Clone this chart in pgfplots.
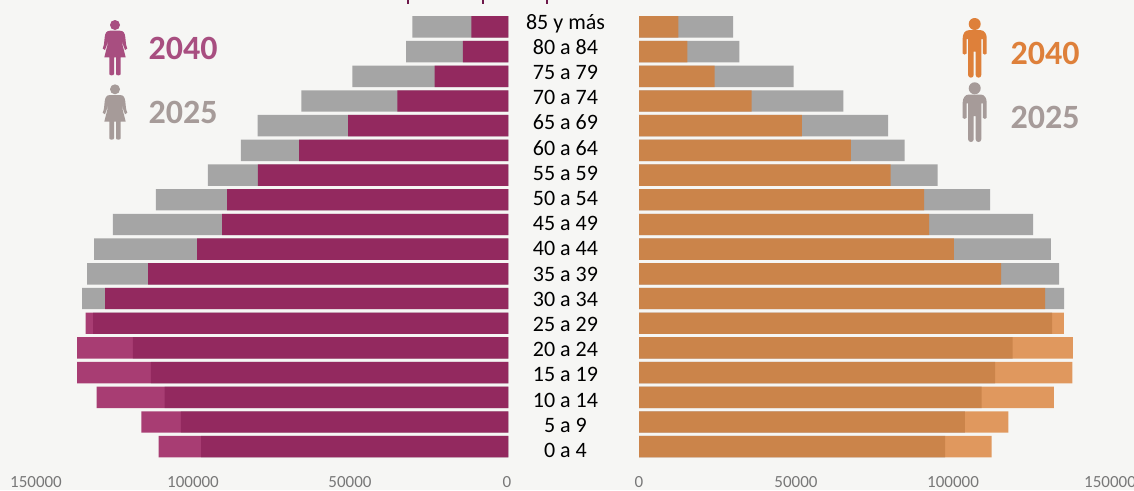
\documentclass[border=0pt]{standalone}
\usepackage{fontspec}
\setmainfont{Carlito}
\usepackage{pgfplots}
\pgfplotsset{compat=1.18}
\usepackage{pgfplotstable}
\definecolor{bgc}{RGB}{246,246,244}
\definecolor{gbar}{RGB}{165,165,165}
\definecolor{pbar}{RGB}{142,0,72}
\definecolor{obar}{RGB}{217,121,44}
\definecolor{ptxt}{RGB}{168,78,128}
\definecolor{otxt}{RGB}{222,128,58}
\definecolor{gtxt}{RGB}{166,155,153}
\definecolor{tickc}{RGB}{120,120,120}
\definecolor{ttl}{RGB}{110,25,75}
% row 0 = "0 a 4"
\pgfplotstableread{
row f2025 f2040 m2025 m2040
0 97900 111400 97500 112300
1 104300 116900 103800 117600
2 109500 131200 109100 132100
3 113900 137400 113400 138000
4 119600 137400 119000 138200
5 132300 134700 131600 135300
6 135800 128500 135400 129300
7 134200 114800 133800 115300
8 132000 99200 131200 100300
9 126000 91200 125500 92400
10 112300 89600 111800 90800
11 95700 79800 95100 80100
12 85200 66700 84600 67500
13 79900 51100 79300 51900
14 66000 35400 65100 35900
15 49700 23500 49200 24100
16 32600 14500 32000 15400
17 30600 11800 30000 12500
}\pop
\pgfplotsset{pyr/.style={
  scale only axis, height=470pt,
  ymin=-0.944, ymax=18.09,
  axis line style={draw=none}, major tick length=0pt,
  xtick={0,50000,100000,150000},
  xticklabels={0,50000,100000,150000},
  scaled x ticks=false,
  xticklabel style={font=\fontsize{17}{20}\selectfont, text=tickc, yshift=-3pt},
  clip=false,
  every axis plot/.style={xbar, bar width=21.4pt, bar shift=0pt, draw=none},
}}
% pictograms
\newcommand{\woman}[3]{% x, y of head centre, colour
 \begin{scope}[shift={(#1,#2)}]
  \fill[#3] (0,0) circle (5);
  \fill[#3] (-5,5.7) -- (5,5.7) to[out=0,in=115] (12.3,23.5) -- (10,25) -- (6,14) -- (10.7,32.3) -- (5.7,32.3) -- (5.7,49) to[out=-90,in=-90] (1,49) -- (1,32.3) -- (-1,32.3) -- (-1,49) to[out=-90,in=-90] (-5.7,49) -- (-5.7,32.3) -- (-10.7,32.3) -- (-6,14) -- (-10,25) -- (-12.3,23.5) to[out=65,in=180] cycle;
 \end{scope}}
\newcommand{\man}[3]{%
 \begin{scope}[shift={(#1,#2)}]
  \fill[#3] (0,0) circle (6);
  \fill[#3] (-6,6.2) -- (6,6.2) to[out=0,in=90] (12,14) -- (12,29.5) to[out=-90,in=-90] (8.2,29.5) -- (8.2,15) -- (6.6,15) -- (6.6,51) to[out=-90,in=0] (3.8,53.7) to[out=180,in=-90] (1,51) -- (1,27.7) -- (-1,27.7) -- (-1,51) to[out=-90,in=0] (-3.8,53.7) to[out=180,in=-90] (-6.6,51) -- (-6.6,15) -- (-8.2,15) -- (-8.2,29.5) to[out=-90,in=-90] (-12,29.5) -- (-12,14) to[out=90,in=180] cycle;
 \end{scope}}
\begin{document}
\begin{tikzpicture}[x=1pt,y=-1pt]
\fill[bgc] (0,0) rectangle (1134,490);
\useasboundingbox (0,0) rectangle (1134,490);
\fill[ttl] (407,0) rectangle (409,4);
\fill[ttl] (482,0) rectangle (484,4);
\fill[ttl] (546,0) rectangle (548,4);
\begin{axis}[pyr, at={(0pt,-470pt)}, anchor=south west, width=508.5pt,
  xmin=0, xmax=161943, x dir=reverse,
  xticklabel style={xshift=-1.5pt},
  ytick={-0.134,0.887,1.907,2.928,3.949,4.970,5.990,7.011,8.032,9.052,10.073,11.094,12.114,13.135,14.156,15.177,16.197,17.218},
  yticklabels={0 a 4,5 a 9,10 a 14,15 a 19,20 a 24,25 a 29,30 a 34,35 a 39,40 a 44,45 a 49,50 a 54,55 a 59,60 a 64,65 a 69,70 a 74,75 a 79,80 a 84,85 y más},
  yticklabel pos=right,
  yticklabel style={anchor=center, xshift=57pt, yshift=-2.5pt, text height=14pt, text depth=4pt, font=\fontsize{22}{24}\selectfont, text=black},
]
\addplot[fill=gbar] table[x=f2025,y=row] {\pop};
\addplot[fill=pbar, fill opacity=0.75] table[x=f2040,y=row] {\pop};
\end{axis}
\begin{axis}[pyr, at={(639pt,-470pt)}, anchor=south west, width=495pt,
  xmin=0, xmax=157643, ytick=\empty]
\addplot[fill=gbar] table[x=m2025,y=row] {\pop};
\addplot[fill=obar, fill opacity=0.75] table[x=m2040,y=row] {\pop};
\end{axis}
\woman{115}{25}{ptxt}
\woman{115}{89.3}{gtxt}
\man{974.7}{24}{otxt}
\man{974.7}{88.3}{gtxt}
\node[font=\fontsize{34}{36}\bfseries\selectfont, text=ptxt] at (183,48) {2040};
\node[font=\fontsize{34}{36}\bfseries\selectfont, text=gtxt] at (183,112) {2025};
\node[font=\fontsize{34}{36}\bfseries\selectfont, text=otxt] at (1045,53) {2040};
\node[font=\fontsize{34}{36}\bfseries\selectfont, text=gtxt] at (1045,117) {2025};
\end{tikzpicture}
\end{document}
